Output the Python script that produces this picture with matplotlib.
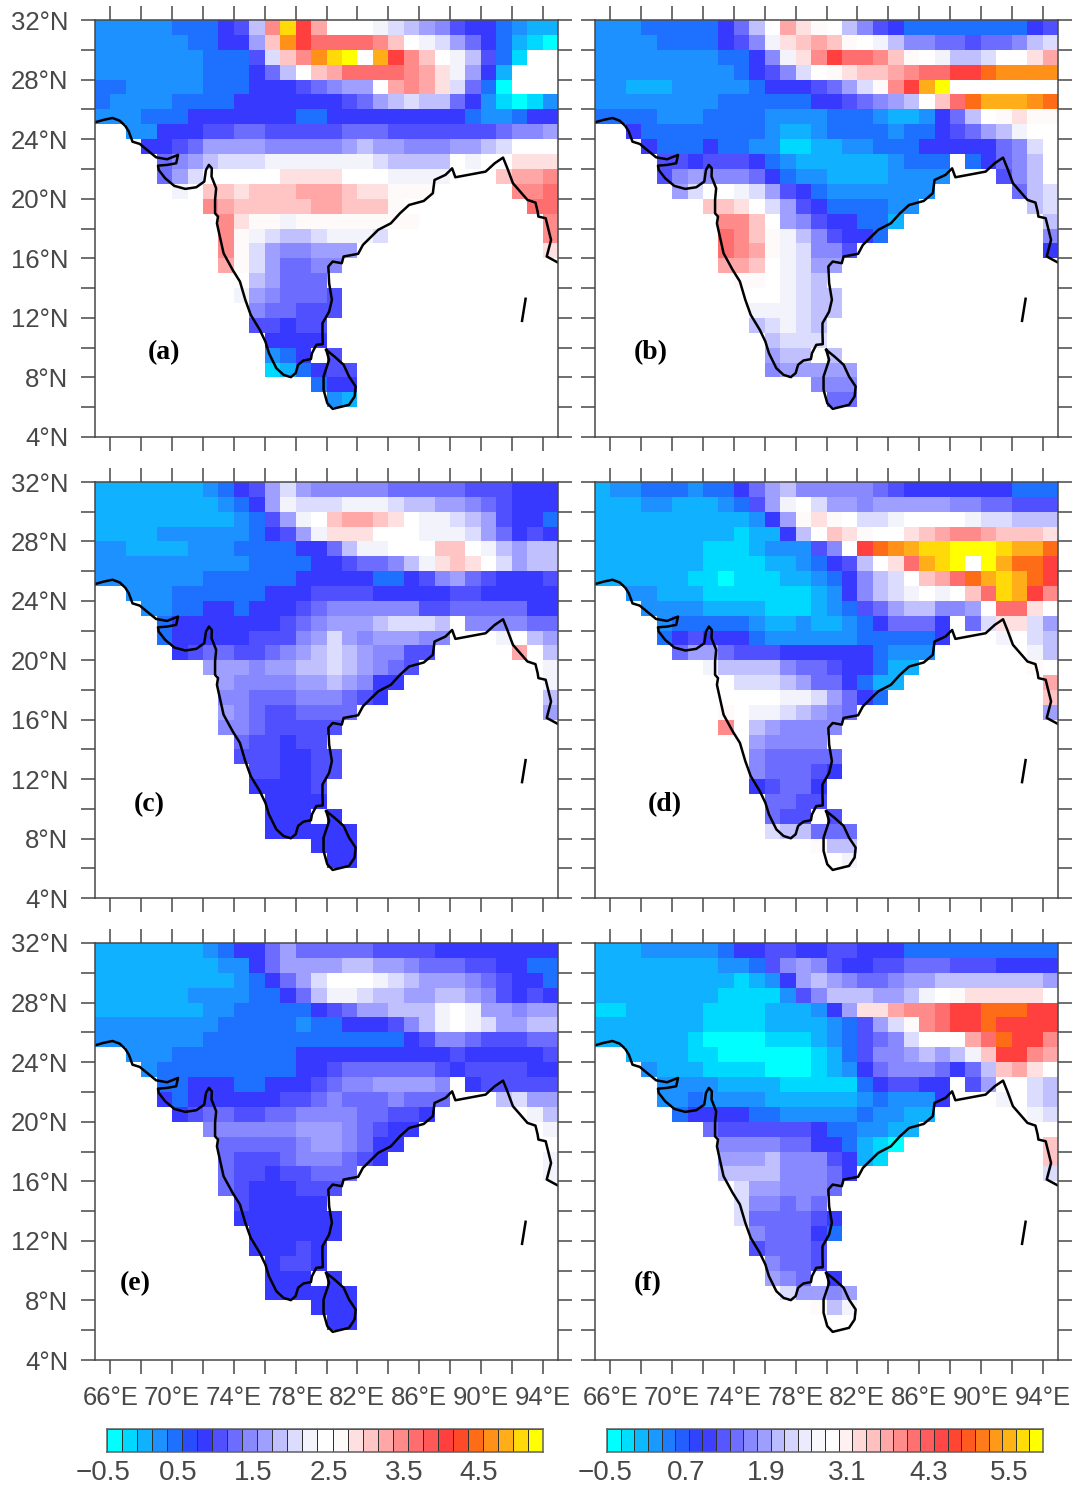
import numpy as np
import matplotlib
matplotlib.use('Agg')
from matplotlib import pyplot as plt
from matplotlib.colors import LinearSegmentedColormap, Normalize

plt.rcParams['font.family'] = ['Liberation Sans', 'DejaVu Sans']

# colours of the 29 boxes of the left bar, the right bar resamples them to 32
box_colors = ['#00ffff', '#00d8ff', '#10b0ff', '#1e90ff', '#1e70ff', '#2a4cff', '#3838ff',
              '#5050ff', '#6c6cff', '#8888ff', '#a0a0ff', '#c0c0ff', '#dcdcff', '#f3f3fb',
              '#ffffff', '#fffafa', '#ffe0e0', '#ffc4c4', '#ffa8a8', '#ff8a8a', '#ff6e6e',
              '#ff5858', '#ff4040', '#ff4a28', '#ff6c18', '#ff9018', '#ffac18', '#ffd808',
              '#ffff00']
# letter in the rows below -> box number, '.' is no data
letters = 'abcdefghijklmnopqrstuvwxyz'
letter_box = [0, 1, 2, 3, 4, 6, 7, 8, 9, 10, 11, 12, 13, 14, 15, 16, 17, 18, 19, 20, 22, 24, 25, 26, 27, 28]

# rows run from 32N down to 4N, columns from 65E to 95E, one degree each
panel_a = [
    "dddddeeefgksyurnnnmlkjigffedcc",
    "ddddddeeffjqwuttttsqnmljhfecba",
    "dddddddeeeglqswyznxusqnmkgebnn",
    "dddddddeeefhknqrttttsrpmjfcnnn",
    "eedddddeeefffghijjnrsrplheannn",
    "eddddeeeefffffffghjklkkhfdbabd",
    "dddeeefffffffeefffffffffeddeff",
    "..ddfffgghhggggghhhggggggghiij",
    "...ffghjjjjiiiiijkjjiiijjklnnn",
    "....hijklllmmmmmmmlkkkknmnnppp",
    "....hjlnnnnnppppnnnmmmmnnnqrrs",
    ".....mnqqpqqqrrrqppooo.....sst",
    ".......srqqqqqrrqqqo........tt",
    "........spoomoooooooo........s",
    "........somlkklmmml..........s",
    "........soljiijjj............p",
    "........roljhhii",
    "..........kjhhh",
    ".........mjihhhg",
    "..........ihhggg",
    "..........ggfgg",
    "...........ffff",
    "...........def.g",
    "...........bcefgg",
    "..............eff",
    "...............dc",
]
panel_b = [
    "dddeeeeefhknrponkigfeeeeeeeefg",
    "ddddeeeefgimpqrqonmkiihhghhikl",
    "ddddddddeefimpsuttsqonmkklnnpr",
    "dddddddddefgilnopqqrsttuuvwwww",
    "ddcccdddddefffghjlosuxznnnnnnn",
    "ddddddddeeeeeeffghijknqtvxxxwv",
    "eeeedddeeeeddddeeedccdfhknopoo",
    "..feeeeeeeedccdeeeedeefghjkmnn",
    "...feeefeeddbbccddeeefffffhiln",
    "....ggfgggfedccccccdeee.efhikn",
    "....gijiiihfeddccccdddd...gikn",
    ".....jlnnmljgfeddddddd.....hkl",
    ".......qqpnljgfeeeedd.......kl",
    "........ssqnjigffeec.........k",
    "........tsqomkigffe..........i",
    "........tsromliig............f",
    "........rrqnmljj",
    ".........oonmlk",
    ".........nnnmlkk",
    "..........mmmlkk",
    "..........klmlk",
    "...........klll",
    "...........jkk.k",
    "...........ijjjjj",
    "..............iii",
    "...............hh",
]
panel_c = [
    "cccccccdefgjljiiiiihhhhhgggfff",
    "ccccccccdefjmlllmmmlkkjjihgfff",
    "cccccccccdegjmnqrrqpnmmlkjgffe",
    "ccccddddddefgjmpppnnnmmmljhfgf",
    "ddccccdddeeeeffhkmmnnnqqnmkjkk",
    "ddddddddddeeeeffghhikmpqpnljkk",
    "dddddddeeeeeefffffeefgijhgfffg",
    "..dddeeeeeefffggggfffffggfffff",
    "...ddeeffefffghiiiiiigghhhhhff",
    "....efffffffghijjjklllkniiiihh",
    "....efffffgggijljijjjii...mnkj",
    ".....fghhgghijklkjiigg.....rnk",
    ".......jjjijjkklkjihg.......nm",
    "........jiiiijjkjiff.........m",
    "........iihhhiiihgf..........k",
    "........jihgghhhh............j",
    "........iihggggg",
    ".........hggfgg",
    ".........gggffgg",
    "..........ggffgg",
    "..........ffffg",
    "...........ffff",
    "...........fff.f",
    "...........ffffff",
    "..............fff",
    "...............ff",
]
panel_d = [
    "cddeeedeefhjkiiiiihgfffffffeee",
    "cccddcccdegjmnljjijjjjjiihhggg",
    "ccccccccccdfjoponllmnnnnmllkkk",
    "cccccccccbccfknqponnpqrssrqqqp",
    "cccccccbbbcdddginuvwxyyzzzyxxv",
    "cccccccbbbbccdefgknptxyznzxvvu",
    "ccccccbbabbbccdefiklnqrtvxyxvu",
    "..ddcccbbbbbbbcdfiklmnmnqtyxus",
    "...ddddccccbbbcdeghjkkiijnttpn",
    "....deeeeedccdccdefhhhf.hlpplj",
    "....efgfffeddddddeeeeef...mnlk",
    ".....hjjhgggffffffeddd......mk",
    ".......mkkkkihhgffecc.......on",
    "........nlllkjhhfecc.........r",
    "........nnnnmmljhfe..........q",
    "........onmmlkjih............j",
    "........snkjiiii",
    "..........jiiii",
    "..........ihhhhh",
    "..........ihhhgf",
    "..........fghhf",
    "...........hhgg",
    "...........hgg.g",
    "...........lkkhhh",
    "..............okk",
    "...............nm",
]
panel_e = [
    "cccccccdeffhjhhhhhggggffffffff",
    "ccccccccddfhjjjjkkjjihhhggffee",
    "cccccccccdefhjlnnnmlkjjjihgffe",
    "ccccccddddeefhkmmlkkjjkkjigfgf",
    "cccccccddeeeeefghjjkkkmnmjjijj",
    "ddddddddeeeeedeefffgikmnmljjkk",
    "dddddddeeeeeeeeeeeeefgiihggghh",
    "..dddeeeeeeeeffffffffffgfffffg",
    "...deeeeeeeeeffghhhhhhgfggggff",
    "....eefffeefffghiijjjji.fggggg",
    "....feffffffgghihhhihhh...kljj",
    ".....fghhgghhiiiihhggf......mk",
    ".......iiiiiijjjihgff........m",
    "........hhhhhijjihff",
    "........hggghiiihgf..........m",
    "........hggfgghhh............m",
    "........hgfffggg",
    ".........gfffff",
    ".........fffffff",
    "..........ffffff",
    "..........fffgf",
    "...........fggf",
    "...........fff.f",
    "...........ffffff",
    "..............fff",
    "...............ff",
]
panel_f = [
    "cccdddddeffggffggfffeeeeeeeeee",
    "ccccccccddegijigffgghhhgggffff",
    "cccccccccbcdfjkjihhijjkkkkkkkj",
    "ccccccccbbbbdgikkkjjkmnopppppn",
    "bbcccccbbbbcccdfjpprsstuuvvvuu",
    "cccccccbbbbccccdegjlostuuvuuuu",
    "ccccccbaaaabbbcdeghilnnnrtvuus",
    "..ccccbbaaaaaabcegiijkjkmquusr",
    "...dcccbbbbaaabcdfhiiihfhkqrpn",
    "....ddddccccbbbbbefggff.gj..lk",
    "....ddeddddccccccdedddf...m.lk",
    ".....effffeedddddeddcc......ml",
    ".......hggggggfeeddcc",
    "........iiiihhffecba.........q",
    "........jjjkiiigfcb..........q",
    "........kkkkiiihf............l",
    ".........ljjiiih",
    ".........liihih",
    ".........lhhhhgf",
    "..........ihhhfe",
    "..........ghhhg",
    "...........ihhg",
    "...........jih.f",
    "............ljjij",
    "..............okm",
]

coast_lon = [65.00, 65.54, 66.13, 66.60, 66.96, 67.19, 67.43, 67.90, 68.37, 68.96, 69.67, 70.38,
             70.26, 69.67, 69.08, 69.13, 69.55, 70.14, 70.85, 71.56, 72.08, 72.19, 72.38, 72.57,
             72.55, 72.85, 72.78, 72.78, 72.97, 72.90, 73.09, 73.33, 73.92, 74.39, 74.74, 75.09,
             75.68, 76.04, 76.27, 76.75, 77.22, 77.69, 78.00, 78.16, 78.51, 78.99, 79.06, 79.34,
             79.76, 79.74, 79.74, 80.17, 80.35, 80.17, 80.12, 80.40, 80.99, 81.11, 82.05, 82.36,
             83.35, 84.17, 84.76, 85.35, 86.30, 86.89, 87.00, 87.71, 88.14, 88.35, 90.31, 90.90,
             91.44, 91.72, 92.08, 93.02, 93.54, 93.68, 93.73, 94.20, 94.55, 94.27, 94.95]
coast_lat = [25.13, 25.29, 25.42, 25.24, 24.89, 24.51, 23.83, 23.68, 23.28, 22.78, 22.65, 22.94,
             22.38, 22.27, 22.22, 21.93, 21.37, 20.86, 20.66, 20.77, 21.15, 21.93, 22.27, 22.04,
             21.49, 20.70, 19.92, 19.02, 18.80, 18.35, 17.46, 16.34, 15.22, 14.44, 13.21, 12.20,
             11.19, 10.41, 9.63, 8.62, 8.17, 8.02, 8.29, 8.85, 9.14, 9.23, 9.63, 10.19,
             10.23, 10.97, 11.64, 12.42, 13.21, 14.33, 15.45, 15.78, 15.67, 16.12, 16.30, 16.90,
             17.91, 18.35, 19.02, 19.58, 19.85, 20.37, 21.26, 21.60, 22.04, 21.44, 21.82, 22.38,
             22.76, 22.04, 21.04, 19.92, 19.74, 19.14, 18.80, 18.69, 17.23, 16.12, 15.74]
lanka_lon = [79.98, 80.52, 81.11, 81.46, 81.89, 81.82, 81.46, 80.40, 80.05, 79.81, 79.81, 80.17, 79.98]
lanka_lat = [9.85, 9.40, 8.85, 8.06, 7.39, 6.72, 6.16, 5.89, 6.27, 7.17, 8.06, 9.18, 9.85]
andaman_lon = [92.90, 92.67]
andaman_lat = [13.28, 11.80]

lon_ticks = list(range(66, 95, 2))
lat_ticks = list(range(4, 33, 2))
lon_labels = [66, 70, 74, 78, 82, 86, 90, 94]
lat_labels = [4, 8, 12, 16, 20, 24, 28, 32]
left_bar_ticks = [-0.5, 0.5, 1.5, 2.5, 3.5, 4.5]
right_bar_ticks = [-0.5, 0.7, 1.9, 3.1, 4.3, 5.5]

# value at the middle of the first and last box, and number of boxes
left_range = (-0.347, 5.253, 29)
right_range = (-0.37, 5.904, 32)

W, H = 1072, 1488
cmap = LinearSegmentedColormap.from_list('bwr_gr', box_colors, N=512)
GRAY = '#484848'


def make_axes(fig, x0, x1, y0, y1):
    return fig.add_axes([x0 / W, 1 - y1 / H, (x1 - x0) / W, (y1 - y0) / H])


def row_values(rows, vrange):
    vmin, vmax, _ = vrange
    out = np.full((28, 30), np.nan)
    for i, row in enumerate(rows):
        assert len(row) <= 30, row
        for j, ch in enumerate(row):
            if ch != '.':
                out[i, j] = vmin + (vmax - vmin) * letter_box[letters.index(ch)] / 28
    return np.ma.masked_invalid(out)


def draw_panel(ax, rows, vrange, name, name_lon, name_lat, show_lat, show_lon):
    vals = row_values(rows, vrange)
    ax.pcolormesh(np.arange(65, 96), np.arange(32, 3, -1), vals, cmap=cmap,
                  norm=Normalize(vrange[0], vrange[1]), shading='flat')
    ax.plot(coast_lon, coast_lat, color='black', lw=1.8, solid_joinstyle='round')
    ax.plot(lanka_lon, lanka_lat, color='black', lw=1.8)
    ax.plot(andaman_lon, andaman_lat, color='black', lw=1.8)
    ax.set_xlim(65, 95)
    ax.set_ylim(4, 32)
    ax.set_xticks(lon_ticks)
    ax.set_yticks(lat_ticks)
    ax.set_xticklabels([f'{v}°E' if (show_lon and v in lon_labels) else '' for v in lon_ticks])
    ax.set_yticklabels([f'{v}°N' if (show_lat and v in lat_labels) else '' for v in lat_ticks])
    ax.tick_params(top=True, bottom=True, left=True, right=True, direction='out', length=10,
                   width=1.1, color=GRAY, labelcolor=GRAY, labelsize=18.5, pad=9)
    for s in ax.spines.values():
        s.set_color(GRAY)
        s.set_linewidth(1.1)
    ax.text(name_lon, name_lat - 0.1, name, fontsize=20, fontweight='bold', family='Liberation Serif',
            ha='center', va='center', color='black')


def draw_bar(ax, vrange, ticks):
    vmin, vmax, n = vrange
    centers = np.linspace(vmin, vmax, n)
    step = centers[1] - centers[0]
    edges = np.append(centers - step / 2, centers[-1] + step / 2)
    ax.pcolormesh(edges, [0, 1], centers[None, :], cmap=cmap, norm=Normalize(vmin, vmax),
                  edgecolors='#303030', linewidth=0.7)
    ax.set_xlim(edges[0], edges[-1])
    ax.set_ylim(0, 1)
    ax.set_xticks([])
    ax.set_yticks([])
    for s in ax.spines.values():
        s.set_color('#606060')
        s.set_linewidth(1.1)
    for t in ticks:
        ax.text(t, -0.93, f'{t:.1f}'.replace('-', '\u2212'), transform=ax.get_xaxis_transform(),
                ha='center', va='center', fontsize=20, color=GRAY, clip_on=False)


fig = plt.figure(figsize=(W / 100, H / 100), dpi=100)

ax_a = make_axes(fig, 95, 558, 20, 437)
ax_b = make_axes(fig, 595, 1058, 20, 437)
ax_c = make_axes(fig, 95, 558, 482, 898)
ax_d = make_axes(fig, 595, 1058, 482, 898)
ax_e = make_axes(fig, 95, 558, 943, 1360)
ax_f = make_axes(fig, 595, 1058, 943, 1360)

draw_panel(ax_a, panel_a, left_range, '(a)', 69.5, 9.8, True, False)
draw_panel(ax_b, panel_b, right_range, '(b)', 68.6, 9.8, False, False)
draw_panel(ax_c, panel_c, left_range, '(c)', 68.5, 10.4, True, False)
draw_panel(ax_d, panel_d, right_range, '(d)', 69.5, 10.4, False, False)
draw_panel(ax_e, panel_e, left_range, '(e)', 67.6, 9.2, True, True)
draw_panel(ax_f, panel_f, right_range, '(f)', 68.4, 9.2, False, True)

draw_bar(make_axes(fig, 107, 543, 1429, 1452), left_range, left_bar_ticks)
draw_bar(make_axes(fig, 607, 1043, 1429, 1452), right_range, right_bar_ticks)

fig.savefig('out.png', dpi=100)
